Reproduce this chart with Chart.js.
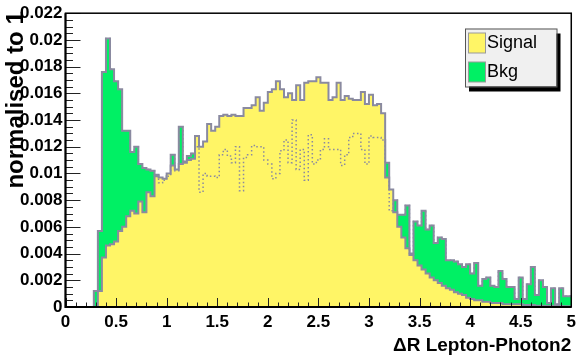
<!DOCTYPE html>
<html>
<head>
<meta charset="utf-8">
<script src="https://cdn.jsdelivr.net/npm/chart.js@4.4.1/dist/chart.umd.min.js"></script>
<style>
  html, body { margin: 0; padding: 0; background: #fff; }
  canvas { display: block; }
</style>
</head>
<body>
<canvas id="dr" width="581" height="361"></canvas>
<script>
// 125 bins of width 0.04 between 0 and 5
const binLow = 0;
const binWidth = 0.04;
const seriesNames = ['Signal', 'Bkg'];
const xTitle = '\u0394R Lepton-Photon2';
const yTitle = 'normalised to 1';

const signal = [
  0, 0, 0, 0, 0, 0, 0, 0, 0.0012, 0.0037,
  0.0046, 0.0047, 0.0049, 0.0057, 0.0060, 0.0068, 0.0072, 0.0070, 0.0079, 0.0071,
  0.0086, 0.0083, 0.0098, 0.0097, 0.0096, 0.0100, 0.0106, 0.0103, 0.0107, 0.0108,
  0.0110, 0.0111, 0.0128, 0.0120, 0.0124, 0.0137, 0.0132, 0.0135, 0.0143, 0.0144,
  0.0143, 0.0144, 0.0143, 0.0143, 0.0149, 0.0149, 0.0151, 0.0157, 0.0147, 0.0153,
  0.0161, 0.0163, 0.0169, 0.0163, 0.0157, 0.0160, 0.0155, 0.0166, 0.0155, 0.0168,
  0.0169, 0.0169, 0.0172, 0.0168, 0.0168, 0.0155, 0.0157, 0.0168, 0.0155, 0.0158,
  0.0156, 0.0155, 0.0155, 0.0161, 0.0152, 0.0159, 0.0151, 0.0152, 0.0145, 0.0097,
  0.0088, 0.0071, 0.0060, 0.0052, 0.0044, 0.0039, 0.0035, 0.0031, 0.0028, 0.0025,
  0.0022, 0.0020, 0.0018, 0.0016, 0.0014, 0.0013, 0.0011, 0.0010, 0.0009, 0.0007,
  0.0006, 0.0005, 0.0005, 0.0004, 0.0004, 0.0003, 0.0003, 0.0003, 0.0002, 0.0002,
  0.0002, 0.0002, 0.0002, 0.00015, 0.00015, 0.00015, 0.0001, 0.0001, 0.0001, 0.0001,
  0.0001, 0.00008, 0.00008, 0.00006, 0.00006
];

const bkg = [
  0, 0, 0, 0, 0, 0, 0, 0.0012, 0.0057, 0.0176,
  0.0201, 0.0178, 0.0169, 0.0163, 0.0132, 0.0132, 0.0116, 0.0120, 0.0107, 0.0104,
  0.0103, 0.0102, 0.0099, 0.0093, 0.0095, 0.0098, 0.0114, 0.0102, 0.0135, 0.0109,
  0.0113, 0.0115, 0.0120, 0.0086, 0.0100, 0.0098, 0.0098, 0.0097, 0.0114, 0.0118,
  0.0113, 0.0108, 0.0120, 0.0087, 0.0112, 0.0114, 0.0121, 0.0120, 0.0120, 0.0110,
  0.0107, 0.0096, 0.0100, 0.0117, 0.0125, 0.0108, 0.0140, 0.0103, 0.0118, 0.0095,
  0.0129, 0.0107, 0.0110, 0.0118, 0.0126, 0.0118, 0.0118, 0.0118, 0.0106, 0.0114,
  0.0127, 0.0130, 0.0130, 0.0118, 0.0107, 0.0128, 0.0127, 0.0127, 0.0125, 0.0108,
  0.0072, 0.0080, 0.0069, 0.0069, 0.0076, 0.0040, 0.0064, 0.0061, 0.0072, 0.0058,
  0.0061, 0.0048, 0.0052, 0.0051, 0.0035, 0.0035, 0.0034, 0.0032, 0.0030, 0.0032,
  0.0025, 0.0033, 0.0016, 0.0021, 0.0022, 0.0016, 0.0015, 0.0027, 0.0021, 0.0015,
  0.0015, 0.0006, 0.0022, 0.0006, 0.0017, 0.0030, 0.0009, 0.0020, 0.0015, 0.0003,
  0.0014, 0.0002, 0.0014, 0.0008, 0.0008
];

const xMajors = [0, 0.5, 1, 1.5, 2, 2.5, 3, 3.5, 4, 4.5, 5];
const xTickLabels = ['0', '0.5', '1', '1.5', '2', '2.5', '3', '3.5', '4', '4.5', '5'];
const yMajors = [0, 0.002, 0.004, 0.006, 0.008, 0.01, 0.012, 0.014, 0.016, 0.018, 0.02, 0.022];
const yTickLabels = ['0', '0.002', '0.004', '0.006', '0.008', '0.01', '0.012', '0.014', '0.016', '0.018', '0.02', '0.022'];

const yellow = '#fff566';
const green = '#00f064';
const lineGrey = '#8a8aa0';
const fontFam = "'Liberation Sans', Arial, Helvetica, sans-serif";

// turn bin contents into a histogram outline (flat top per bin)
function histPoints(values) {
  const pts = [];
  values.forEach((v, i) => {
    const lo = +(binLow + i * binWidth).toFixed(4);
    const hi = +(binLow + (i + 1) * binWidth).toFixed(4);
    pts.push({ x: lo, y: v }, { x: hi, y: v });
  });
  return pts;
}

// majors plus evenly split minor ticks in between
function withMinors(majors, nSub) {
  const out = [];
  for (let i = 0; i < majors.length; i++) {
    out.push({ value: majors[i] });
    if (i < majors.length - 1) {
      const step = (majors[i + 1] - majors[i]) / nSub;
      for (let j = 1; j < nSub; j++) out.push({ value: majors[i] + j * step });
    }
  }
  return out;
}

function labelFor(v, majors, labels) {
  const i = majors.findIndex(m => Math.abs(m - v) < 1e-9);
  return i >= 0 ? labels[i] : '';
}

// ROOT style frame: inward ticks, plain box, titles, legend with shadow
const rootFrame = {
  id: 'rootFrame',
  afterDatasetsDraw(chart) {
    const { ctx, chartArea: a, scales } = chart;
    ctx.save();
    ctx.strokeStyle = '#222';
    ctx.lineWidth = 1;
    scales.x.ticks.forEach(t => {
      const px = Math.round(scales.x.getPixelForValue(t.value)) + 0.5;
      const len = t.label !== '' ? 9 : 4.5;
      ctx.beginPath();
      ctx.moveTo(px, a.bottom);
      ctx.lineTo(px, a.bottom - len);
      ctx.stroke();
    });
    scales.y.ticks.forEach(t => {
      const py = Math.round(scales.y.getPixelForValue(t.value)) + 0.5;
      const len = t.label !== '' ? 15 : 7.5;
      ctx.beginPath();
      ctx.moveTo(a.left, py);
      ctx.lineTo(a.left + len, py);
      ctx.stroke();
    });
    ctx.strokeStyle = '#000';
    ctx.lineWidth = 1.5;
    ctx.strokeRect(a.left, a.top, a.right - a.left, a.bottom - a.top);
    ctx.lineWidth = 2;
    ctx.beginPath();
    ctx.moveTo(a.left, a.top);
    ctx.lineTo(a.left, a.bottom);
    ctx.lineTo(a.right, a.bottom);
    ctx.stroke();

    // axis titles
    ctx.fillStyle = '#000';
    ctx.font = 'bold 19px ' + fontFam;
    ctx.textAlign = 'right';
    ctx.textBaseline = 'alphabetic';
    ctx.fillText(xTitle, a.right, 351);
    ctx.translate(23, a.top - 2);
    ctx.rotate(-Math.PI / 2);
    ctx.font = 'bold 24px ' + fontFam;
    ctx.textAlign = 'right';
    ctx.fillText(yTitle, 0, 0);
    ctx.restore();
  },
  afterDraw(chart) {
    const ctx = chart.ctx;
    const bx = 465, by = 28.5, bw = 91.5, bh = 58;
    ctx.save();
    ctx.fillStyle = '#000';
    ctx.fillRect(bx + 4, by + 5, bw, bh);
    ctx.fillStyle = '#f0f0f0';
    ctx.fillRect(bx, by, bw, bh);
    ctx.strokeStyle = '#555';
    ctx.lineWidth = 1;
    ctx.strokeRect(bx + 0.5, by + 0.5, bw, bh);
    const fills = [yellow, green];
    seriesNames.forEach((name, i) => {
      const sy = by + 4.5 + i * 29;
      ctx.fillStyle = fills[i];
      ctx.fillRect(bx + 3.5, sy, 17, 20);
      ctx.strokeStyle = '#999';
      ctx.strokeRect(bx + 3.5, sy, 17, 20);
      ctx.fillStyle = '#000';
      ctx.font = '18px ' + fontFam;
      ctx.textBaseline = 'middle';
      ctx.textAlign = 'left';
      ctx.fillText(name, bx + 22, sy + 10);
    });
    ctx.restore();
  }
};

new Chart(document.getElementById('dr'), {
  type: 'line',
  data: {
    datasets: [
      {
        label: seriesNames[1],
        data: histPoints(bkg),
        backgroundColor: green,
        borderColor: lineGrey,
        borderWidth: 2,
        fill: 'origin',
        pointRadius: 0,
        order: 3
      },
      {
        label: seriesNames[0],
        data: histPoints(signal),
        backgroundColor: yellow,
        borderColor: lineGrey,
        borderWidth: 2,
        fill: 'origin',
        pointRadius: 0,
        order: 2
      },
      {
        label: seriesNames[1] + ' outline',
        data: histPoints(bkg),
        borderColor: lineGrey,
        borderWidth: 1.5,
        borderDash: [1.5, 2.5],
        fill: false,
        pointRadius: 0,
        order: 1
      }
    ]
  },
  options: {
    responsive: false,
    animation: false,
    events: [],
    layout: { padding: { left: 0, right: 5, top: 4, bottom: 0 } },
    plugins: {
      legend: { display: false },
      tooltip: { enabled: false }
    },
    elements: { line: { tension: 0 } },
    scales: {
      x: {
        type: 'linear',
        min: 0,
        max: 5,
        afterBuildTicks: s => { s.ticks = withMinors(xMajors, 5); },
        afterFit: s => { s.height = 54; },
        grid: { display: false, drawTicks: false },
        border: { display: false },
        ticks: {
          autoSkip: false,
          maxRotation: 0,
          padding: 5,
          color: '#000',
          font: { family: fontFam, size: 17, weight: 'bold' },
          callback: v => labelFor(v, xMajors, xTickLabels)
        }
      },
      y: {
        type: 'linear',
        min: 0,
        max: 0.022,
        afterBuildTicks: s => { s.ticks = withMinors(yMajors, 4); },
        afterFit: s => { s.width = 65.5; },
        grid: { display: false, drawTicks: false },
        border: { display: false },
        ticks: {
          autoSkip: false,
          padding: 3,
          color: '#000',
          font: { family: fontFam, size: 17, weight: 'bold' },
          callback: v => labelFor(v, yMajors, yTickLabels)
        }
      }
    }
  },
  plugins: [rootFrame]
});
</script>
</body>
</html>
